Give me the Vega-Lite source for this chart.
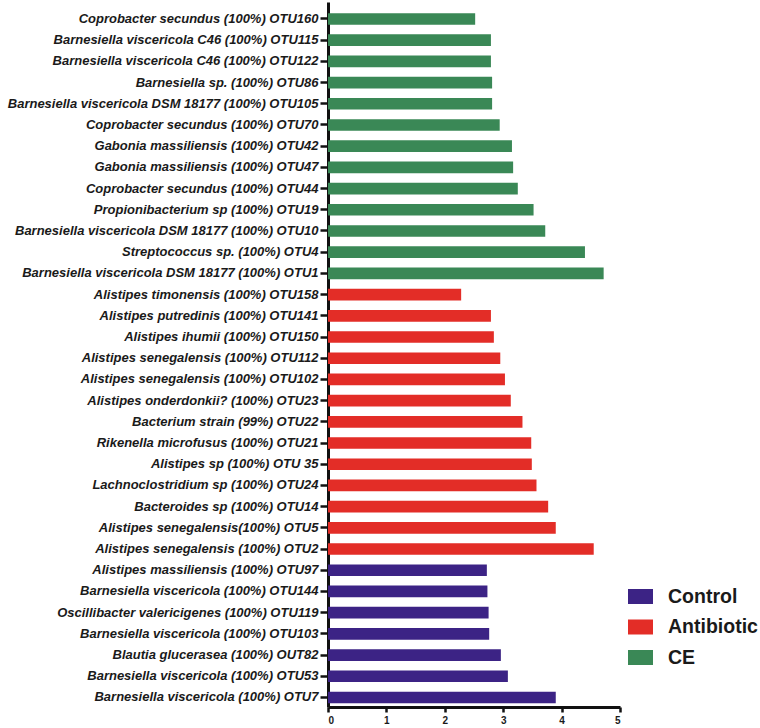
{
  "$schema": "https://vega.github.io/schema/vega-lite/v6.json",
  "autosize": {"type": "none"},
  "width": 292,
  "height": 705,
  "padding": {"left": 328, "top": 2, "right": 140, "bottom": 21},
  "background": "white",
  "config": {"view": {"stroke": null}},
  "data": {
    "values": [
      {"taxon": "Coprobacter secundus (100%) OTU160", "group": "CE", "value": 2.52},
      {"taxon": "Barnesiella viscericola C46 (100%) OTU115", "group": "CE", "value": 2.79},
      {"taxon": "Barnesiella viscericola C46 (100%) OTU122", "group": "CE", "value": 2.79},
      {"taxon": "Barnesiella sp. (100%) OTU86", "group": "CE", "value": 2.81},
      {"taxon": "Barnesiella viscericola DSM 18177 (100%) OTU105", "group": "CE", "value": 2.81},
      {"taxon": "Coprobacter secundus (100%) OTU70", "group": "CE", "value": 2.94},
      {"taxon": "Gabonia massiliensis (100%) OTU42", "group": "CE", "value": 3.15},
      {"taxon": "Gabonia massiliensis (100%) OTU47", "group": "CE", "value": 3.17},
      {"taxon": "Coprobacter secundus (100%) OTU44", "group": "CE", "value": 3.25},
      {"taxon": "Propionibacterium sp (100%) OTU19", "group": "CE", "value": 3.52},
      {"taxon": "Barnesiella viscericola DSM 18177 (100%) OTU10", "group": "CE", "value": 3.72},
      {"taxon": "Streptococcus sp. (100%) OTU4", "group": "CE", "value": 4.40},
      {"taxon": "Barnesiella viscericola DSM 18177 (100%) OTU1", "group": "CE", "value": 4.72},
      {"taxon": "Alistipes timonensis (100%) OTU158", "group": "Antibiotic", "value": 2.28},
      {"taxon": "Alistipes putredinis (100%) OTU141", "group": "Antibiotic", "value": 2.79},
      {"taxon": "Alistipes ihumii (100%) OTU150", "group": "Antibiotic", "value": 2.84},
      {"taxon": "Alistipes senegalensis (100%) OTU112", "group": "Antibiotic", "value": 2.95},
      {"taxon": "Alistipes senegalensis (100%) OTU102", "group": "Antibiotic", "value": 3.03},
      {"taxon": "Alistipes onderdonkii? (100%) OTU23", "group": "Antibiotic", "value": 3.13},
      {"taxon": "Bacterium strain (99%) OTU22", "group": "Antibiotic", "value": 3.33},
      {"taxon": "Rikenella microfusus (100%) OTU21", "group": "Antibiotic", "value": 3.48},
      {"taxon": "Alistipes sp (100%) OTU 35", "group": "Antibiotic", "value": 3.49},
      {"taxon": "Lachnoclostridium sp (100%) OTU24", "group": "Antibiotic", "value": 3.57},
      {"taxon": "Bacteroides sp (100%) OTU14", "group": "Antibiotic", "value": 3.77},
      {"taxon": "Alistipes senegalensis(100%) OTU5", "group": "Antibiotic", "value": 3.90},
      {"taxon": "Alistipes senegalensis (100%) OTU2", "group": "Antibiotic", "value": 4.55},
      {"taxon": "Alistipes massiliensis (100%) OTU97", "group": "Control", "value": 2.72},
      {"taxon": "Barnesiella viscericola (100%) OTU144", "group": "Control", "value": 2.73},
      {"taxon": "Oscillibacter valericigenes (100%) OTU119", "group": "Control", "value": 2.75},
      {"taxon": "Barnesiella viscericola (100%) OTU103", "group": "Control", "value": 2.76},
      {"taxon": "Blautia glucerasea (100%) OUT82", "group": "Control", "value": 2.96},
      {"taxon": "Barnesiella viscericola (100%) OTU53", "group": "Control", "value": 3.08},
      {"taxon": "Barnesiella viscericola (100%) OTU7", "group": "Control", "value": 3.90}
    ]
  },
  "mark": {"type": "bar"},
  "encoding": {
    "y": {
      "field": "taxon",
      "type": "nominal",
      "sort": null,
      "scale": {"paddingInner": 0.45, "paddingOuter": 0.35, "align": 0.75},
      "axis": {
        "title": null,
        "labelFont": "Liberation Sans",
        "labelFontStyle": "italic",
        "labelFontWeight": "bold",
        "labelFontSize": 13,
        "labelColor": "#1a1a1a",
        "labelLimit": 0,
        "labelPadding": 2,
        "tickSize": 8,
        "tickWidth": 2.5,
        "tickColor": "#111",
        "domainWidth": 3,
        "domainColor": "#111"
      }
    },
    "x": {
      "field": "value",
      "type": "quantitative",
      "scale": {"domain": [0, 5], "nice": false},
      "axis": {
        "title": null,
        "values": [0, 1, 2, 3, 4, 5],
        "grid": false,
        "labelFont": "Liberation Sans",
        "labelFontWeight": "bold",
        "labelFontSize": 10,
        "labelColor": "#1a1a1a",
        "labelPadding": 3,
        "tickSize": 5,
        "tickWidth": 2.5,
        "tickColor": "#111",
        "domainWidth": 3,
        "domainColor": "#111"
      }
    },
    "color": {
      "field": "group",
      "type": "nominal",
      "scale": {
        "domain": ["Control", "Antibiotic", "CE"],
        "range": ["#3c2385", "#e32d27", "#3a8856"]
      },
      "legend": {
        "title": null,
        "orient": "none",
        "legendX": 300,
        "legendY": 582,
        "symbolType": "M-1,-0.6H1V0.6H-1Z",
        "symbolSize": 625,
        "symbolStrokeWidth": 0,
        "symbolOpacity": 1,
        "labelFont": "Liberation Sans",
        "labelFontWeight": "bold",
        "labelFontSize": 19.5,
        "labelColor": "#1a1a1a",
        "labelOffset": 15,
        "rowPadding": 8.5
      }
    }
  }
}
